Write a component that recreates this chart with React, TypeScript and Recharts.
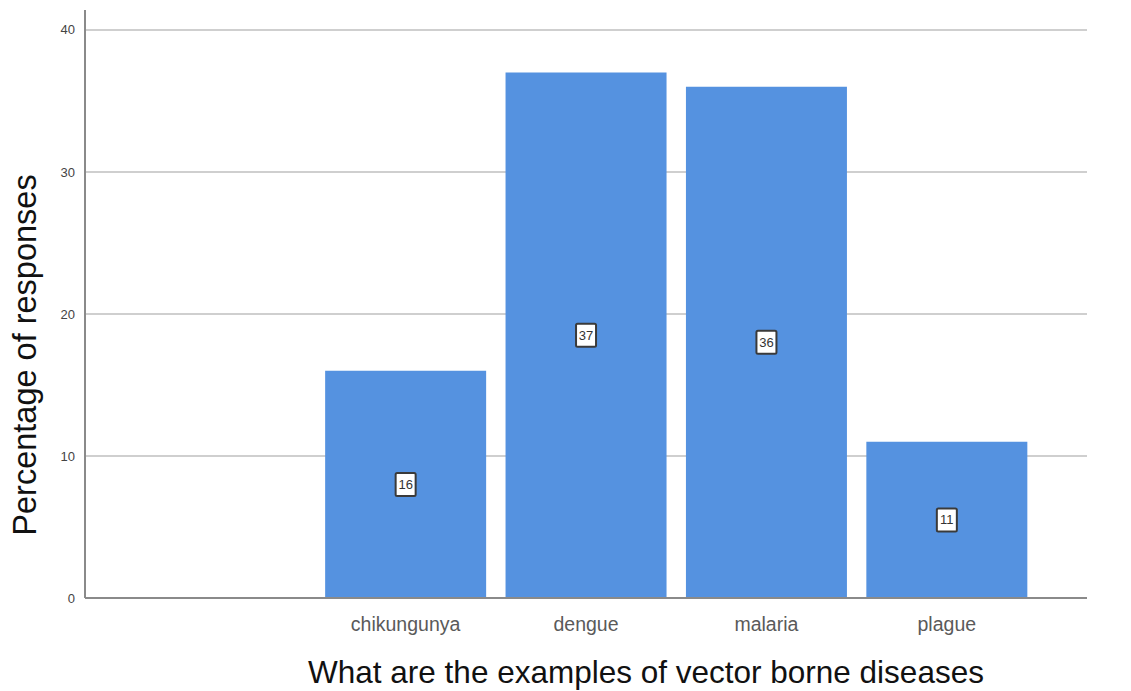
import React from 'react';
import { BarChart, Bar, XAxis, YAxis, CartesianGrid, LabelList, Label } from 'recharts';

const categories = ['', 'chikungunya', 'dengue', 'malaria', 'plague'];
const percentages = [0, 16, 37, 36, 11];
const yTicks = [0, 10, 20, 30, 40];
const gridValues = [10, 20, 30, 40];

const data = categories.map((name, i) => ({ name, value: percentages[i] }));

const FONT = '"Liberation Sans", Arial, Helvetica, sans-serif';

const ValueBox = (props: any) => {
  const { x, y, width, height, value } = props;
  if (!value) return null;
  const cx = x + width / 2;
  const cy = y + height / 2;
  const w = 20;
  const h = 23;
  return (
    <g>
      <rect x={cx - w / 2} y={cy - h / 2} width={w} height={h} fill="#ffffff" stroke="#3a3a3a" strokeWidth={2} rx={1.5} />
      <text x={cx} y={cy + 4.5} textAnchor="middle" fontSize={13} fontFamily={FONT} fill="#333">{value}</text>
    </g>
  );
};

const YTitle = (props: any) => {
  const { viewBox } = props;
  const cx = 17;
  const cy = viewBox.y + viewBox.height / 2 + 51;
  return (
    <text x={cx} y={cy} transform={`rotate(-90, ${cx}, ${cy})`} textAnchor="middle" dominantBaseline="central" fontSize={32.5} fontFamily={FONT} fill="#111">
      Percentage of responses
    </text>
  );
};

const XTitle = (props: any) => {
  const { viewBox } = props;
  const cx = viewBox.x + viewBox.width / 2 + 60;
  const cy = 664;
  return (
    <text x={cx} y={cy} textAnchor="middle" dominantBaseline="central" fontSize={31.5} fontFamily={FONT} fill="#111">
      What are the examples of vector borne diseases
    </text>
  );
};

export default function App() {
  return (
    <div style={{ width: 1123, height: 683, background: '#fff' }}>
      <BarChart
        width={1123}
        height={683}
        data={data}
        margin={{ top: 2, right: 44, bottom: 43, left: 37 }}
        barCategoryGap="5.4%"
      >
        <CartesianGrid vertical={false} horizontalValues={gridValues} stroke="#cfcfcf" strokeWidth={2} />
        <XAxis
          dataKey="name"
          height={50}
          padding={{ left: 50, right: 50 }}
          tickLine={false}
          axisLine={{ stroke: '#8a8a8a', strokeWidth: 2 }}
          tick={{ fontSize: 19.5, fill: '#5a5a5a', fontFamily: FONT }}
          tickMargin={13}
          interval={0}
        >
          <Label content={XTitle} />
        </XAxis>
        <YAxis
          width={40}
          domain={[0, 41.4]}
          ticks={yTicks}
          tickLine={false}
          axisLine={{ stroke: '#8a8a8a', strokeWidth: 2 }}
          tick={{ fontSize: 13, fill: '#444', fontFamily: FONT }}
          tickMargin={4}
        >
          <Label content={YTitle} />
        </YAxis>
        <Bar dataKey="value" fill="#5592e0" isAnimationActive={false}>
          <LabelList dataKey="value" content={ValueBox} />
        </Bar>
      </BarChart>
    </div>
  );
}
